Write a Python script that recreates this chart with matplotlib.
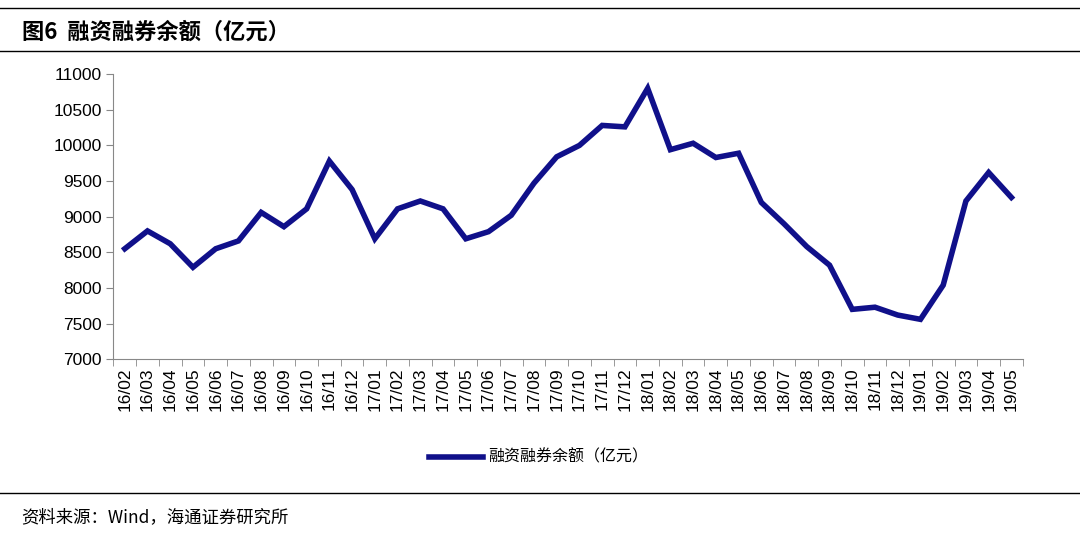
import matplotlib
matplotlib.use("Agg")
import matplotlib.pyplot as plt
from matplotlib.lines import Line2D

plt.rcParams['font.family'] = ['Liberation Sans', 'Noto Sans CJK SC']

months = ["16/02","16/03","16/04","16/05","16/06","16/07","16/08","16/09","16/10","16/11","16/12",
          "17/01","17/02","17/03","17/04","17/05","17/06","17/07","17/08","17/09","17/10","17/11","17/12",
          "18/01","18/02","18/03","18/04","18/05","18/06","18/07","18/08","18/09","18/10","18/11","18/12",
          "19/01","19/02","19/03","19/04","19/05"]
balance = [8550,8800,8620,8290,8550,8660,9060,8860,9110,9780,9380,
           8690,9110,9220,9110,8690,8790,9020,9470,9840,10000,10280,10260,
           10800,9940,10030,9830,9890,9200,8900,8580,8320,7700,7730,7620,
           7560,8040,9220,9620,9270]
yticks = [7000,7500,8000,8500,9000,9500,10000,10500,11000]

fig = plt.figure(figsize=(10.8,5.37), dpi=100)
ax = fig.add_axes([0.105,0.331,0.842,0.531])
x = range(len(months))
ax.plot(x, balance, color='#10108a', lw=4, solid_joinstyle='miter')
ax.set_xlim(-0.5, len(months)-0.5)
ax.set_ylim(7000, 11000)
ax.set_yticks(yticks)
ax.set_yticklabels([str(v) for v in yticks], fontsize=12.5)
ax.set_xticks(list(x))
ax.set_xticklabels(months, rotation=90, fontsize=12.5, va='top')
ax.set_xticks([i-0.5 for i in range(len(months)+1)], minor=True)
ax.tick_params(axis='x', which='major', length=0, pad=6)
ax.tick_params(axis='x', which='minor', length=5, color='#888888')
ax.tick_params(axis='y', length=5, color='#888888')
for s in ['top','right']:
    ax.spines[s].set_visible(False)
for s in ['left','bottom']:
    ax.spines[s].set_color('#888888')

cjk = 'Noto Sans CJK SC'
fig.text(0.02, 0.94, "图6  融资融券余额（亿元）", fontsize=16, fontweight='bold', va='center', family=cjk)
fig.add_artist(Line2D([0,1],[0.985,0.985], color='black', lw=1))
fig.add_artist(Line2D([0,1],[0.905,0.905], color='black', lw=1))
fig.add_artist(Line2D([0,1],[0.082,0.082], color='black', lw=1))
fig.text(0.02, 0.037, "资料来源：Wind，海通证券研究所", fontsize=12.5, va='center', family=cjk)
fig.add_artist(Line2D([0.397,0.447],[0.149,0.149], color='#10108a', lw=4))
fig.text(0.452, 0.149, "融资融券余额（亿元）", fontsize=11.5, va='center', family=cjk)
fig.savefig("out.png", dpi=100)
